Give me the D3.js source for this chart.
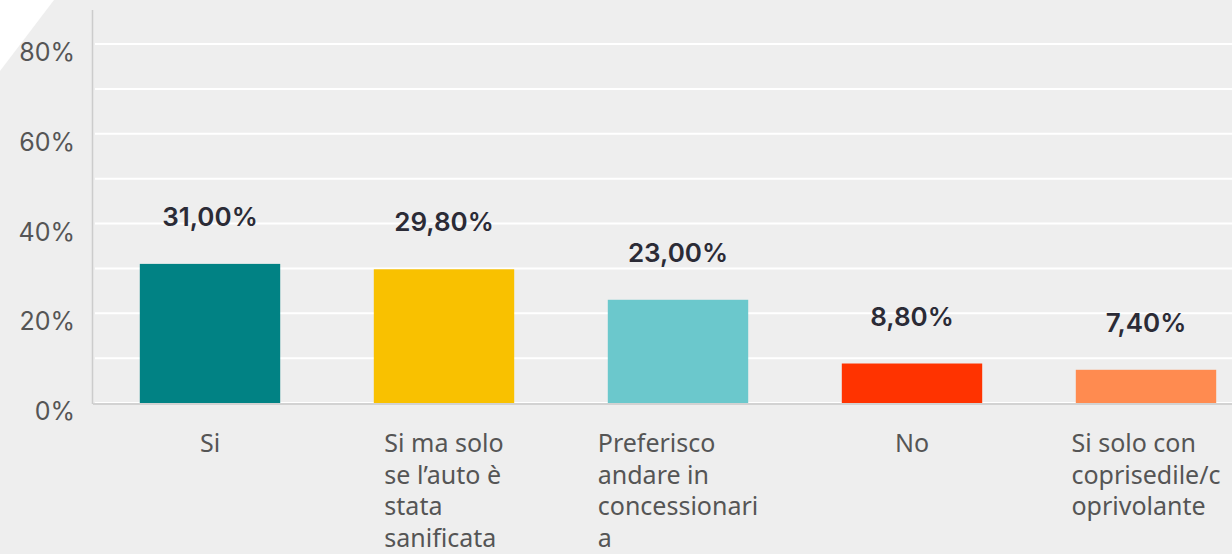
<!DOCTYPE html>
<html>
<head>
<meta charset="utf-8">
<script src="https://cdn.jsdelivr.net/npm/d3@7"></script>
<style>
  html, body { margin: 0; padding: 0; background: #eeeeee; }
  svg { display: block; }
</style>
</head>
<body>
<svg id="chart" width="1232" height="554"></svg>
<script>
// data
var categories = ['Si', 'Si ma solo se l\u2019auto \u00e8 stata sanificata', 'Preferisco andare in concessionaria', 'No', 'Si solo con coprisedile/coprivolante'];
var values = [31.0, 29.8, 23.0, 8.8, 7.4];
var valueLabels = ['31,00%', '29,80%', '23,00%', '8,80%', '7,40%'];
var tickLabelLines = [
    ['Si'],
    ['Si ma solo', 'se l\u2019auto \u00e8', 'stata', 'sanificata'],
    ['Preferisco', 'andare in', 'concessionari', 'a'],
    ['No'],
    ['Si solo con', 'coprisedile/c', 'oprivolante']
];
var barColors = ['#018284', '#f9c100', '#6bc8cc', '#ff3300', '#ff8b50'];
var yTicks = [0, 20, 40, 60, 80];
var gridTicks = [0, 10, 20, 30, 40, 50, 60, 70, 80];

var width = 1232,
    height = 554;

var svg = d3.select('#chart');

var x = d3.scaleBand()
    .domain(categories)
    .range([93, 1263])
    .paddingInner(0.4)
    .paddingOuter(0.2);

var y = d3.scaleLinear()
    .domain([0, 80])
    .range([403, 44]);

// white corner cut
svg.append('path')
    .attr('d', 'M0,0 L54,0 L0,71 Z')
    .attr('fill', '#ffffff');

// gridlines
svg.append('g')
    .selectAll('line')
    .data(gridTicks)
    .enter().append('line')
    .attr('x1', 95)
    .attr('x2', width)
    .attr('y1', function(d) { return y(d); })
    .attr('y2', function(d) { return y(d); })
    .attr('stroke', '#ffffff')
    .attr('stroke-width', 2);

// y axis line
svg.append('line')
    .attr('x1', 92.5).attr('x2', 92.5)
    .attr('y1', 10).attr('y2', y(0) + 1)
    .attr('stroke', '#cccccc')
    .attr('stroke-width', 1.5);

// y tick labels
svg.append('g')
    .selectAll('text')
    .data(yTicks)
    .enter().append('text')
    .attr('x', 75)
    .attr('y', function(d) { return y(d) + 17; })
    .attr('text-anchor', 'end')
    .attr('font-family', 'Inter, sans-serif')
    .attr('font-size', 25)
    .attr('fill', '#555555')
    .text(function(d) { return d + '%'; });

// bars
svg.append('g')
    .selectAll('rect')
    .data(values)
    .enter().append('rect')
    .attr('x', function(d, i) { return x(categories[i]); })
    .attr('y', function(d) { return y(d); })
    .attr('width', x.bandwidth())
    .attr('height', function(d) { return y(0) - y(d); })
    .attr('fill', function(d, i) { return barColors[i]; });

// x axis baseline
svg.append('line')
    .attr('x1', 93).attr('x2', width)
    .attr('y1', y(0) + 1).attr('y2', y(0) + 1)
    .attr('stroke', '#d2d2d2')
    .attr('stroke-width', 2);

// value labels
svg.append('g')
    .selectAll('text')
    .data(values)
    .enter().append('text')
    .attr('x', function(d, i) { return x(categories[i]) + x.bandwidth() / 2; })
    .attr('y', function(d) { return y(d) - 38; })
    .attr('text-anchor', 'middle')
    .attr('font-family', 'Inter, sans-serif')
    .attr('font-weight', 600)
    .attr('font-size', 26)
    .attr('fill', '#2b2b36')
    .text(function(d, i) { return valueLabels[i]; });

// category labels: lines left aligned, block centred under bar
var catText = svg.append('g')
    .selectAll('text')
    .data(categories)
    .enter().append('text')
    .attr('font-family', 'Noto Sans, sans-serif')
    .attr('font-size', 25)
    .attr('fill', '#555555');

catText.each(function(c, i) {
    var text = d3.select(this);
    tickLabelLines[i].forEach(function(line, j) {
        text.append('tspan')
            .attr('x', 0)
            .attr('y', 452 + j * 31.5)
            .text(line);
    });
    var w = this.getBBox().width,
        left = x(c) + x.bandwidth() / 2 - w / 2;
    text.selectAll('tspan').attr('x', left);
});
</script>
</body>
</html>
